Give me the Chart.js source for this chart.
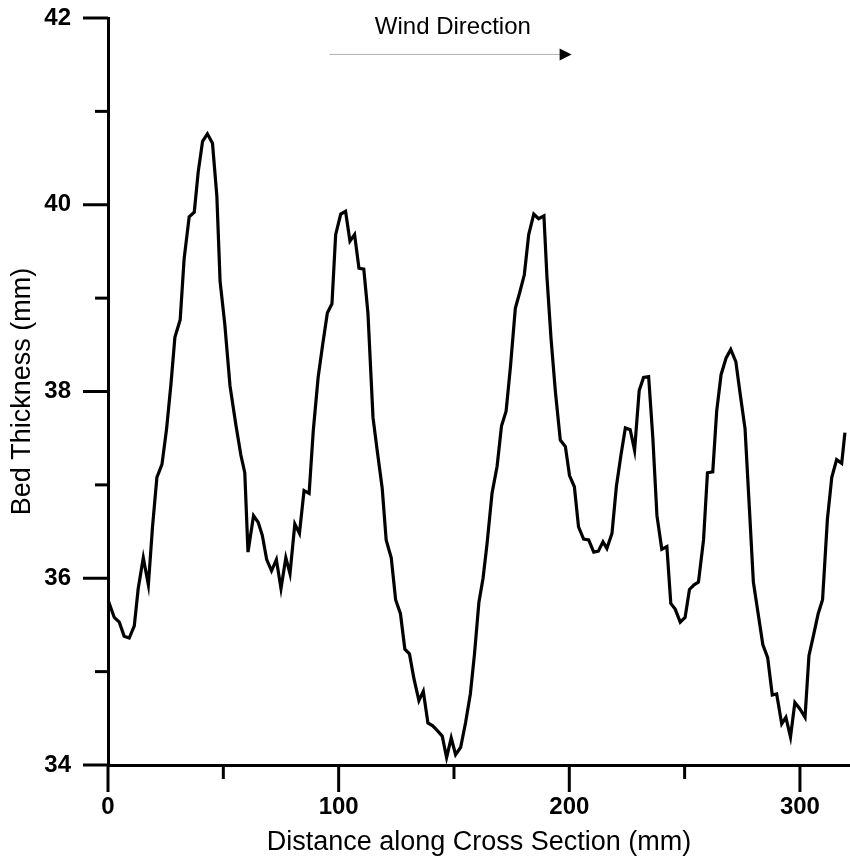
<!DOCTYPE html>
<html>
<head>
<meta charset="utf-8">
<script src="https://cdn.jsdelivr.net/npm/chart.js@4.4.1/dist/chart.umd.min.js"></script>
<style>
    html, body { margin: 0; padding: 0; background: #fff; }
    #wrap { width: 850px; height: 865px; }
</style>
</head>
<body>
<div id="wrap"><canvas id="grafica" width="850" height="865"></canvas></div>
<script>
// distancia a lo largo del corte (mm)
const distancia = [
    0, 2.7, 4.9, 7.0, 9.2, 11.4, 13.1, 15.3, 17.5, 19.3, 21.2, 23.4, 25.4, 27.3, 29.0, 31.3, 33.0, 35.2, 37.4, 39.1,
    41.0, 43.1, 45.3, 47.2, 48.6, 50.6, 52.9, 55.4, 57.6, 59.3, 60.7, 63.1, 65.1, 66.9, 68.8, 70.9, 73.0, 75.0, 77.1, 78.9,
    81.0, 83.0, 85.0, 87.2, 89.0, 91.1, 93.0, 95.1, 97.1, 98.7, 100.9, 103.0, 104.9, 106.9, 108.8, 110.9, 112.7, 114.9, 116.7, 118.9,
    120.6, 122.8, 124.7, 126.8, 128.7, 130.7, 132.6, 134.8, 136.7, 138.7, 140.8, 142.7, 144.9, 146.8, 148.8, 150.7, 152.9, 155.0, 157.1, 158.9,
    160.8, 162.6, 164.3, 166.5, 168.7, 170.6, 172.6, 174.5, 176.6, 178.5, 180.5, 182.4, 184.6, 186.7, 189.0, 190.3, 192.1, 194.0, 196.1, 198.3,
    200.1, 202.2, 204.0, 206.2, 208.4, 210.6, 212.6, 214.6, 216.3, 218.5, 220.4, 222.4, 224.3, 226.4, 228.3, 230.3, 232.2, 234.4, 236.2, 238.0,
    240.1, 242.3, 244.0, 245.9, 248.1, 250.2, 252.1, 254.1, 256.0, 258.2, 259.9, 262.2, 263.9, 265.8, 268.0, 270.0, 272.2, 274.0, 276.2, 278.1,
    279.8, 282.0, 283.9, 286.0, 288.0, 289.9, 292.1, 293.9, 295.9, 297.8, 300.0, 302.2, 303.9, 305.8, 307.9, 309.8, 311.9, 313.8, 315.9, 318.1,
    319.5
];

// espesor del lecho (mm)
const espesor = [
    35.77, 35.58, 35.53, 35.38, 35.36, 35.49, 35.89, 36.22, 35.93, 36.55, 37.08, 37.22, 37.60, 38.08, 38.58, 38.77, 39.42, 39.87, 39.92, 40.35,
    40.68, 40.76, 40.66, 40.09, 39.18, 38.73, 38.06, 37.65, 37.32, 37.13, 36.28, 36.67, 36.60, 36.46, 36.20, 36.08, 36.20, 35.89, 36.22, 36.05,
    36.58, 36.48, 36.94, 36.91, 37.58, 38.15, 38.49, 38.84, 38.94, 39.68, 39.90, 39.93, 39.61, 39.68, 39.32, 39.31, 38.84, 37.72, 37.37, 36.96,
    36.41, 36.22, 35.77, 35.62, 35.24, 35.19, 34.93, 34.69, 34.79, 34.45, 34.42, 34.37, 34.31, 34.08, 34.29, 34.11, 34.19, 34.45, 34.76, 35.19,
    35.74, 36.00, 36.36, 36.91, 37.20, 37.63, 37.79, 38.27, 38.89, 39.06, 39.25, 39.68, 39.90, 39.85, 39.88, 39.23, 38.56, 37.99, 37.48, 37.41,
    37.10, 36.98, 36.55, 36.42, 36.41, 36.28, 36.29, 36.39, 36.32, 36.48, 36.98, 37.32, 37.61, 37.59, 37.37, 38.01, 38.15, 38.16, 37.51, 36.67,
    36.31, 36.34, 35.73, 35.67, 35.53, 35.58, 35.88, 35.93, 35.96, 36.41, 37.13, 37.14, 37.79, 38.18, 38.36, 38.45, 38.32, 37.99, 37.60, 36.74,
    35.96, 35.60, 35.29, 35.15, 34.75, 34.76, 34.44, 34.51, 34.30, 34.67, 34.60, 34.51, 35.17, 35.38, 35.62, 35.77, 36.63, 37.08, 37.27, 37.23,
    37.56
];

// marcas de los ejes
const ticksX = [0, 50, 100, 150, 200, 250, 300];
const etiquetasX = [0, 100, 200, 300];
const ticksY = [34, 35, 36, 37, 38, 39, 40, 41, 42];
const etiquetasY = [34, 36, 38, 40, 42];

// flecha "Wind Direction" (en unidades de los datos)
const textoViento = "Wind Direction";
const flechaX = [96, 201];
const flechaY = 41.61;
const textoVientoPos = [149.5, 41.9];

const fuente = "'Liberation Sans', Arial, sans-serif";

// dibuja las marcas mayores y menores de los ejes
const marcasPlugin = {
    id: "marcas",
    afterDraw(chart) {
        const ctx = chart.ctx;
        const sx = chart.scales.x;
        const sy = chart.scales.y;
        const area = chart.chartArea;
        ctx.save();
        ctx.strokeStyle = "#000";
        ctx.lineWidth = 3;
        ticksX.forEach(v => {
            const px = sx.getPixelForValue(v);
            const largo = etiquetasX.includes(v) ? 27 : 14;
            ctx.beginPath();
            ctx.moveTo(px, area.bottom);
            ctx.lineTo(px, area.bottom + largo);
            ctx.stroke();
        });
        ticksY.forEach(v => {
            const py = sy.getPixelForValue(v);
            const largo = etiquetasY.includes(v) ? 25 : 13;
            ctx.beginPath();
            ctx.moveTo(area.left, py);
            ctx.lineTo(area.left - largo, py);
            ctx.stroke();
        });

        // flecha de dirección del viento
        const x1 = sx.getPixelForValue(flechaX[0]);
        const x2 = sx.getPixelForValue(flechaX[1]);
        const fy = sy.getPixelForValue(flechaY);
        ctx.strokeStyle = "#b0b0b0";
        ctx.lineWidth = 1;
        ctx.beginPath();
        ctx.moveTo(x1, fy);
        ctx.lineTo(x2 - 11, fy);
        ctx.stroke();
        ctx.fillStyle = "#000";
        ctx.beginPath();
        ctx.moveTo(x2 - 12, fy - 6);
        ctx.lineTo(x2, fy);
        ctx.lineTo(x2 - 12, fy + 6);
        ctx.closePath();
        ctx.fill();

        ctx.font = "24px " + fuente;
        ctx.textAlign = "center";
        ctx.textBaseline = "middle";
        ctx.fillText(textoViento, sx.getPixelForValue(textoVientoPos[0]), sy.getPixelForValue(textoVientoPos[1]));
        ctx.restore();
    }
};

const ctx = document.getElementById("grafica").getContext("2d");

new Chart(ctx, {
    type: "line",
    data: {
        datasets: [{
            label: "Bed Thickness",
            data: distancia.map((d, i) => ({ x: d, y: espesor[i] })),
            borderColor: "#000",
            borderWidth: 3.2,
            pointRadius: 0,
            tension: 0,
            fill: false
        }]
    },
    options: {
        responsive: false,
        animation: false,
        layout: {
            padding: { top: 18, right: 0, bottom: 0, left: 0 }
        },
        plugins: {
            legend: { display: false },
            tooltip: { enabled: false }
        },
        scales: {
            x: {
                type: "linear",
                min: 0,
                max: 321.7,
                afterFit(scale) {
                    scale.height = 100;
                    scale.paddingLeft = 0;
                    scale.paddingRight = 0;
                },
                border: { display: true, color: "#000", width: 3 },
                grid: { display: true, drawOnChartArea: false, tickLength: 27, tickColor: "rgba(0,0,0,0)" },
                ticks: {
                    stepSize: 50,
                    autoSkip: false,
                    includeBounds: false,
                    maxRotation: 0,
                    padding: 1,
                    color: "#000",
                    font: { family: fuente, size: 24, weight: "bold" },
                    callback: v => etiquetasX.includes(v) ? v : ""
                },
                title: {
                    display: true,
                    text: "Distance along Cross Section (mm)",
                    color: "#000",
                    font: { family: fuente, size: 27 },
                    padding: { top: 0, bottom: 6 }
                }
            },
            y: {
                min: 34,
                max: 42,
                afterFit(scale) {
                    scale.width = 108;
                    scale.paddingTop = 0;
                    scale.paddingBottom = 0;
                },
                border: { display: true, color: "#000", width: 3 },
                grid: { display: true, drawOnChartArea: false, tickLength: 25, tickColor: "rgba(0,0,0,0)" },
                ticks: {
                    stepSize: 1,
                    autoSkip: false,
                    padding: 12,
                    color: "#000",
                    font: { family: fuente, size: 24, weight: "bold" },
                    callback: v => etiquetasY.includes(v) ? v : ""
                },
                title: {
                    display: true,
                    text: "Bed Thickness (mm)",
                    color: "#000",
                    font: { family: fuente, size: 27 },
                    padding: { top: 6, bottom: 0 }
                }
            }
        }
    },
    plugins: [marcasPlugin]
});
</script>
</body>
</html>
